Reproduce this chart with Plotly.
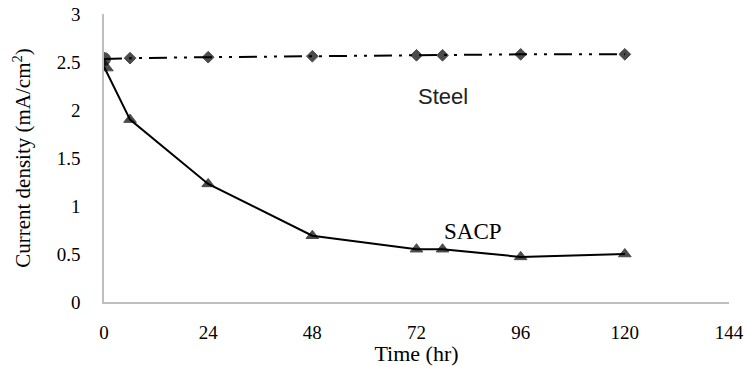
import plotly.graph_objects as go

steel_time = [0, 6, 24, 48, 72, 78, 96, 120]
steel_cd = [2.53, 2.54, 2.55, 2.56, 2.57, 2.57, 2.58, 2.58]
sacp_time = [0, 6, 24, 48, 72, 78, 96, 120]
sacp_cd = [2.45, 1.90, 1.23, 0.69, 0.55, 0.55, 0.47, 0.50]
x_ticks = [0, 24, 48, 72, 96, 120, 144]
y_ticks = [0, 0.5, 1, 1.5, 2, 2.5, 3]
y_tick_text = ["0", "0.5", "1", "1.5", "2", "2.5", "3"]

serif = "Liberation Serif, Times New Roman, serif"

fig = go.Figure()
fig.add_trace(go.Scatter(
    x=sacp_time, y=sacp_cd, mode="lines+markers", name="SACP",
    line=dict(color="black", width=2),
    marker=dict(symbol="triangle-up", color="black",
                line=dict(color="black", width=1),
                size=[16, 11, 11, 11, 11, 11, 11, 11]),
))
fig.add_trace(go.Scatter(
    x=steel_time, y=steel_cd, mode="lines+markers", name="Steel",
    line=dict(color="black", width=2, dash="18px,7px,3px,7px,3px,7px"),
    marker=dict(symbol=["circle"] + ["diamond"] * 7, color="black",
                line=dict(color="black", width=1),
                size=[13, 9, 9, 9, 9, 9, 9, 9]),
))

fig.add_annotation(x=78, y=2.14, text="Steel", showarrow=False,
                   font=dict(family="Liberation Sans, Arial, sans-serif", size=22, color="#222"))
fig.add_annotation(x=85, y=0.73, text="SACP", showarrow=False,
                   font=dict(family=serif, size=23, color="black"))

fig.update_layout(
    width=748, height=366,
    margin=dict(l=104, r=19, t=14, b=64, autoexpand=False),
    plot_bgcolor="white", paper_bgcolor="white",
    showlegend=False,
    font=dict(family=serif, color="black"),
)
fig.update_xaxes(
    range=[0, 144], tickvals=x_ticks, showgrid=False, zeroline=False,
    showline=True, linecolor="#bfbfbf", linewidth=1.5, ticks="",
    tickfont=dict(family=serif, size=19, color="black"),
    ticklabelstandoff=12, automargin=False,
    title=dict(text="Time (hr)", font=dict(family=serif, size=22, color="black"), standoff=5),
)
fig.update_yaxes(
    range=[0, 3], tickvals=y_ticks, ticktext=y_tick_text, showgrid=False, zeroline=False,
    showline=True, linecolor="#bfbfbf", linewidth=1.5, ticks="",
    tickfont=dict(family=serif, size=19, color="black"),
    ticklabelstandoff=18, automargin=False,
    title=dict(text="Current density (mA/cm<sup>2</sup>)",
               font=dict(family=serif, size=21, color="black"), standoff=20),
)

fig.write_html("out.html")
